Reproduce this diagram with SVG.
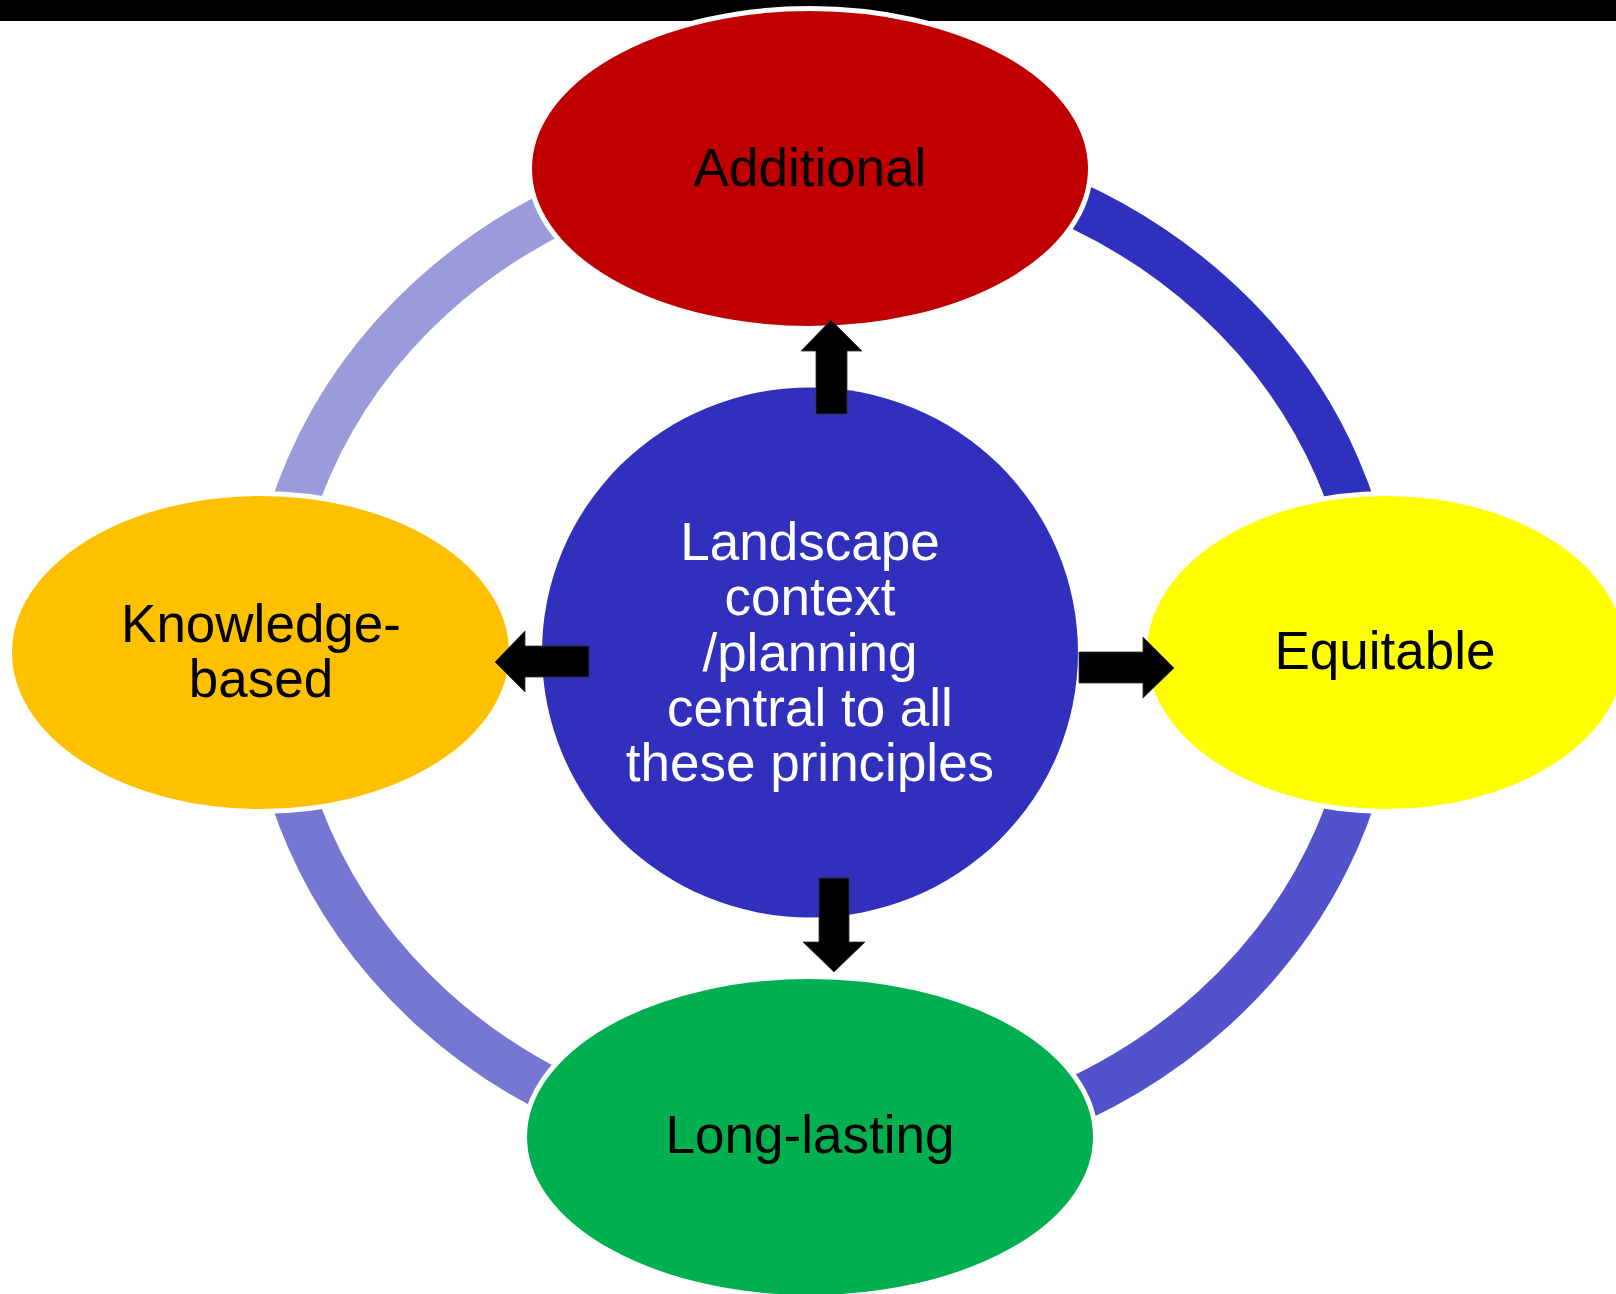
<svg xmlns="http://www.w3.org/2000/svg" width="1616" height="1294" viewBox="0 0 1616 1294">
<style>
.lbl{font-family:"Liberation Sans",Arial,sans-serif;font-size:53px;text-anchor:middle;fill:#000}
.ctr{font-family:"Liberation Sans",Arial,sans-serif;font-size:53px;text-anchor:middle;fill:#fff}
.node{stroke:#fff;stroke-width:5}
.ring{fill:none;stroke-width:46;stroke-linecap:butt}
.arrow{fill:#000;stroke:#333;stroke-width:0.8}
</style>
<rect x="0" y="0" width="1616" height="21" fill="#000"/>
<g id="ring">
<path class="ring" stroke="#3030BF" d="M823,149.5 A553,503 0 0 1 1376,652.5"/>
<path class="ring" stroke="#5252CC" d="M1376,652.5 A553,503 0 0 1 823,1155.5"/>
<path class="ring" stroke="#7676D3" d="M823,1155.5 A553,503 0 0 1 270,652.5"/>
<path class="ring" stroke="#9B9BDB" d="M270,652.5 A553,503 0 0 1 823,149.5"/>
</g>
<g id="node-additional">
<ellipse class="node" cx="810" cy="168.5" rx="280.5" ry="160" fill="#C00000"/>
<text class="lbl" x="810" y="186">Additional</text>
</g>
<g id="node-knowledge">
<ellipse class="node" cx="260.5" cy="652.5" rx="251" ry="159" fill="#FFC000"/>
<text class="lbl" x="261" y="642">Knowledge-</text>
<text class="lbl" x="261" y="697">based</text>
</g>
<g id="node-equitable">
<ellipse class="node" cx="1386" cy="652.5" rx="241.5" ry="159" fill="#FFFF00"/>
<text class="lbl" x="1385" y="669">Equitable</text>
</g>
<g id="node-longlasting">
<ellipse class="node" cx="810" cy="1137" rx="285.5" ry="160.5" fill="#00B050"/>
<text class="lbl" x="810" y="1153">Long-lasting</text>
</g>
<g id="node-center">
<ellipse cx="810" cy="652.5" rx="268" ry="265" fill="#3030BC"/>
<text class="ctr" x="810" y="560">Landscape</text>
<text class="ctr" x="810" y="615">context</text>
<text class="ctr" x="810" y="671">/planning</text>
<text class="ctr" x="810" y="726">central to all</text>
<text class="ctr" x="810" y="781">these principles</text>
</g>
<g id="connectors">
<polygon class="arrow" points="816,414 816,351 801,351 831,320 862,351 847,351 847,414"/>
<polygon class="arrow" points="589,646 525,646 525,631 495,662 525,692 525,677 589,677"/>
<polygon class="arrow" points="1079,652 1143,652 1143,637 1174,668 1143,698 1143,683 1079,683"/>
<polygon class="arrow" points="819,878 849,878 849,942 865,942 834,972 803,942 819,942"/>
</g>
</svg>
